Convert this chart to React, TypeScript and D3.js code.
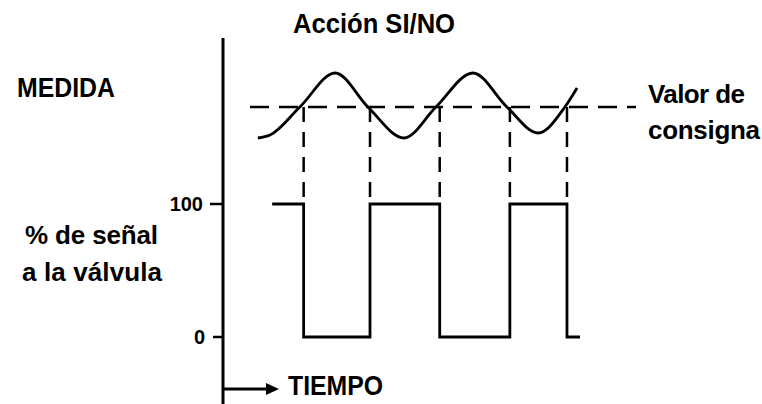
import React from "react";
import * as d3 from "d3";

// Measured variable (time, value)
const measureTime = [8.3, 11.2, 18.3, 26.7, 34.5, 43.1, 50.7, 59.5, 67.6, 75, 81.4, 84.3];
const measureValue = [22, 25, 53, 87, 53, 22, 53, 87, 53, 27, 53, 72];
const setpoint = 53;

// Switching instants of the on/off valve
const switchTimes = [19.2, 35.0, 51.6, 68.3, 81.9];
const valveStart = 11.7;
const valveEnd = 85;
const valveInitial = 100;

const valveTicks = [0, 100];
const tickLabels = ["0", "100"];

const W = 762;
const H = 404;

export default function App() {
  const x = d3.scaleLinear().domain([0, 100]).range([223, 643]);
  const yM = d3.scaleLinear().domain([0, 100]).range([160, 60]);
  const yV = d3.scaleLinear().domain([0, 100]).range([337, 204]);

  const measurePts: [number, number][] = measureTime.map((t, i) => [x(t), yM(measureValue[i])]);
  const measureLine = d3.line().curve(d3.curveMonotoneX)(measurePts) || "";

  const valvePts: [number, number][] = [];
  let v = valveInitial;
  valvePts.push([valveStart, v]);
  switchTimes.forEach((t) => {
    valvePts.push([t, v]);
    v = v === 100 ? 0 : 100;
    valvePts.push([t, v]);
  });
  valvePts.push([valveEnd, v]);
  const valveLine =
    d3.line<[number, number]>().x((d) => x(d[0])).y((d) => yV(d[1]))(valvePts) || "";

  const font = "'Liberation Sans', Arial, sans-serif";
  const axisX = x(0);

  return (
    <svg width={W} height={H} style={{ position: "absolute", left: 0, top: 0, background: "#fff" }}>
      <g fontFamily={font} fontWeight="bold" fill="#000">
        <text x={293} y={33} fontSize={27} textLength={162} lengthAdjust="spacingAndGlyphs">
          Acción SI/NO
        </text>
        <text x={17} y={97} fontSize={27} textLength={98} lengthAdjust="spacingAndGlyphs">
          MEDIDA
        </text>
        <text x={25} y={244} fontSize={26} textLength={133} lengthAdjust="spacing">
          % de señal
        </text>
        <text x={22} y={281} fontSize={26} textLength={140} lengthAdjust="spacing">
          a la válvula
        </text>
        <text x={648} y={103} fontSize={26} textLength={97} lengthAdjust="spacing">
          Valor de
        </text>
        <text x={648} y={139} fontSize={26} textLength={112} lengthAdjust="spacing">
          consigna
        </text>
        <text x={288} y={395} fontSize={27} textLength={95} lengthAdjust="spacingAndGlyphs">
          TIEMPO
        </text>
      </g>

      {/* vertical axis */}
      <line x1={axisX} y1={38} x2={axisX} y2={404} stroke="#000" strokeWidth={3} />
      {valveTicks.map((t, i) => (
        <g key={t}>
          <line x1={axisX - (t === 100 ? 13 : 10)} x2={axisX} y1={yV(t)} y2={yV(t)} stroke="#000" strokeWidth={2.5} />
          <text
            x={t === 100 ? 203 : 205}
            y={yV(t) + 7}
            textAnchor="end"
            fontFamily={font}
            fontSize={20}
            fontWeight="bold"
          >
            {tickLabels[i]}
          </text>
        </g>
      ))}

      {/* time arrow */}
      <line x1={axisX} y1={389} x2={268} y2={389} stroke="#000" strokeWidth={3} />
      <path d={`M266,383 L279,389 L266,395 Z`} fill="#000" />

      {/* setpoint */}
      <line
        x1={250}
        x2={636}
        y1={yM(setpoint)}
        y2={yM(setpoint)}
        stroke="#000"
        strokeWidth={2.5}
        strokeDasharray="19 10"
      />

      {/* vertical dashed projections */}
      {switchTimes.map((t) => (
        <line
          key={t}
          x1={x(t)}
          x2={x(t)}
          y1={yM(setpoint)}
          y2={yV(100) - 4}
          stroke="#000"
          strokeWidth={2.5}
          strokeDasharray="15 10"
        />
      ))}

      {/* measure curve */}
      <path d={measureLine} fill="none" stroke="#000" strokeWidth={2.8} />

      {/* valve signal */}
      <path d={valveLine} fill="none" stroke="#000" strokeWidth={2.8} />
    </svg>
  );
}
